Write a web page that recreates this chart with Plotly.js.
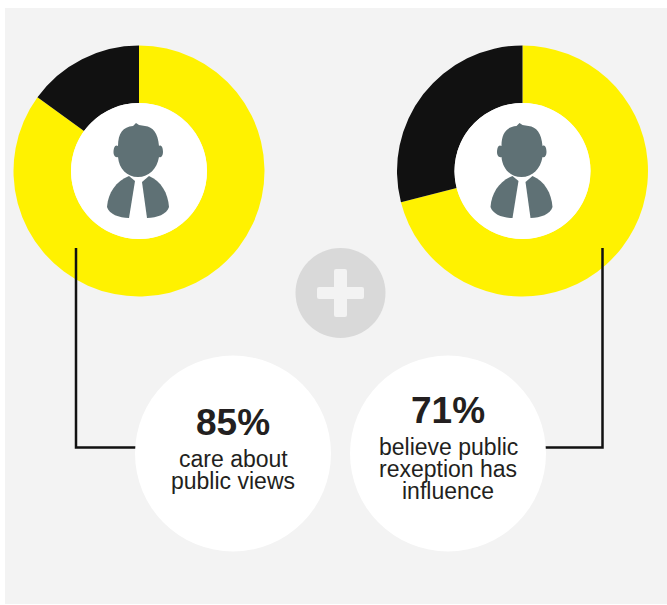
<!DOCTYPE html>
<html>
<head>
<meta charset="utf-8">
<script src="https://cdn.plot.ly/plotly-3.0.1.min.js"></script>
<style>html,body{margin:0;padding:0;background:#fff}</style>
</head>
<body>
<div id="chart" style="width:667px;height:605px"></div>
<script>
// Survey shares shown by the two rings
var careValues = [85, 15];
var influenceValues = [71, 29];
var sliceLabels = ['Yes', 'No'];
var sliceColors = ['#fff200', '#111111'];
var careLines = ['care about', 'public views'];
var influenceLines = ['believe public', 'rexeption has', 'influence'];

var W = 667, H = 605;
var R = 125.5, INNER = 68;
var RING_Y = 171;
var LEFT_X = 139, RIGHT_X = 522.5;
var PANEL = '#f3f3f3';

function ring(values, cx) {
  return {
    type: 'pie',
    values: values,
    labels: sliceLabels,
    sort: false,
    direction: 'clockwise',
    rotation: 0,
    hole: INNER / R,
    textinfo: 'none',
    hoverinfo: 'label+percent',
    marker: {colors: sliceColors, line: {width: 0}},
    domain: {
      x: [(cx - R) / W, (cx + R) / W],
      y: [1 - (RING_Y + R) / H, 1 - (RING_Y - R) / H]
    },
    showlegend: false
  };
}

function shape(o) {
  return Object.assign({xref: 'x', yref: 'y', layer: 'above', line: {width: 0}}, o);
}

function circle(cx, cy, r, color) {
  return shape({type: 'circle', x0: cx - r, x1: cx + r, y0: cy - r, y1: cy + r, fillcolor: color});
}

// Head-and-shoulders pictogram, built around the ring centre
function person(cx, cy) {
  function p(dx, dy) { return (cx + dx) + ',' + (cy + dy); }
  var head = 'M' + p(-21, -25) +
    ' C' + p(-21, -38) + ' ' + p(-16, -44) + ' ' + p(-6, -45) +
    ' L' + p(-3, -48) + ' L' + p(0, -46) + ' L' + p(6, -45) +
    ' C' + p(14, -44) + ' ' + p(19, -38) + ' ' + p(20, -25) +
    ' C' + p(23, -27) + ' ' + p(24, -22) + ' ' + p(24, -19) +
    ' C' + p(24, -15) + ' ' + p(22, -13) + ' ' + p(20, -14) +
    ' C' + p(18, -2) + ' ' + p(10, 6) + ' ' + p(-1, 6) +
    ' C' + p(-12, 6) + ' ' + p(-20, -2) + ' ' + p(-21, -14) +
    ' C' + p(-24, -13) + ' ' + p(-25.5, -16) + ' ' + p(-25.5, -19) +
    ' C' + p(-25.5, -23) + ' ' + p(-24, -27) + ' ' + p(-21, -25) + ' Z';
  var leftShoulder = 'M' + p(-10, 5) + ' L' + p(-4, 10) + ' L' + p(-10, 47) +
    ' C' + p(-20, 47) + ' ' + p(-30, 43) + ' ' + p(-32, 36) +
    ' C' + p(-31, 22) + ' ' + p(-23, 10) + ' ' + p(-10, 5) + ' Z';
  var rightShoulder = 'M' + p(10, 5) + ' L' + p(3, 11) + ' L' + p(8, 47) +
    ' C' + p(18, 47) + ' ' + p(28, 43) + ' ' + p(30, 36) +
    ' C' + p(29, 22) + ' ' + p(22, 10) + ' ' + p(10, 5) + ' Z';
  return [head, leftShoulder, rightShoulder].map(function (d) {
    return shape({type: 'path', path: d, fillcolor: '#5f7175'});
  });
}

function elbow(points) {
  var d = points.map(function (pt, i) { return (i ? 'L' : 'M') + pt[0] + ',' + pt[1]; }).join(' ');
  return shape({type: 'path', path: d, line: {color: '#111111', width: 2.5}});
}

function roundedBar(x0, x1, y0, y1, color) {
  var r = 2;
  return shape({
    type: 'path',
    fillcolor: color,
    path: 'M' + (x0 + r) + ',' + y0 + ' L' + (x1 - r) + ',' + y0 + ' Q' + x1 + ',' + y0 + ' ' + x1 + ',' + (y0 + r) +
      ' L' + x1 + ',' + (y1 - r) + ' Q' + x1 + ',' + y1 + ' ' + (x1 - r) + ',' + y1 +
      ' L' + (x0 + r) + ',' + y1 + ' Q' + x0 + ',' + y1 + ' ' + x0 + ',' + (y1 - r) +
      ' L' + x0 + ',' + (y0 + r) + ' Q' + x0 + ',' + y0 + ' ' + (x0 + r) + ',' + y0 + ' Z'
  });
}

var panel = shape({type: 'rect', layer: 'below', x0: 5, x1: 667, y0: 8, y1: 604, fillcolor: PANEL});

var shapes = [panel,
  circle(LEFT_X, RING_Y, INNER, '#ffffff'),
  circle(RIGHT_X, RING_Y, INNER, '#ffffff')
].concat(person(LEFT_X, RING_Y), person(RIGHT_X, RING_Y), [
  circle(340.5, 293, 45, '#d9d9d9'),
  roundedBar(317, 364, 287, 299, PANEL),
  roundedBar(334, 347, 269, 317, PANEL),
  elbow([[76, 248], [76, 447.5], [140, 447.5]]),
  elbow([[602.5, 248], [602.5, 447.5], [540, 447.5]]),
  circle(233, 453.5, 98, '#ffffff'),
  circle(448, 453.5, 98, '#ffffff')
]);

var TEXT = '#231f20';
function label(text, x, y, size, bold) {
  return {
    text: bold ? '<b>' + text + '</b>' : text,
    x: x, y: y, xref: 'x', yref: 'y',
    xanchor: 'center', yanchor: 'middle',
    showarrow: false,
    font: {family: '"Liberation Sans", Arial, sans-serif', size: size, color: TEXT}
  };
}

var annotations = [label(careValues[0] + '%', 233, 422, 37, true),
  label(influenceValues[0] + '%', 448, 410.5, 37, true)];
careLines.forEach(function (t, i) { annotations.push(label(t, 233, 458.5 + i * 22, 23, false)); });
influenceLines.forEach(function (t, i) { annotations.push(label(t, 448, 446.5 + i * 22, 23, false)); });

var layout = {
  width: W, height: H,
  margin: {l: 0, r: 0, t: 0, b: 0},
  paper_bgcolor: '#ffffff',
  plot_bgcolor: 'rgba(0,0,0,0)',
  xaxis: {range: [0, W], visible: false, fixedrange: true},
  yaxis: {range: [H, 0], visible: false, fixedrange: true},
  shapes: shapes,
  annotations: annotations,
  showlegend: false
};

Plotly.newPlot('chart', [ring(careValues, LEFT_X), ring(influenceValues, RIGHT_X)], layout, {displayModeBar: false, staticPlot: true});
</script>
</body>
</html>
